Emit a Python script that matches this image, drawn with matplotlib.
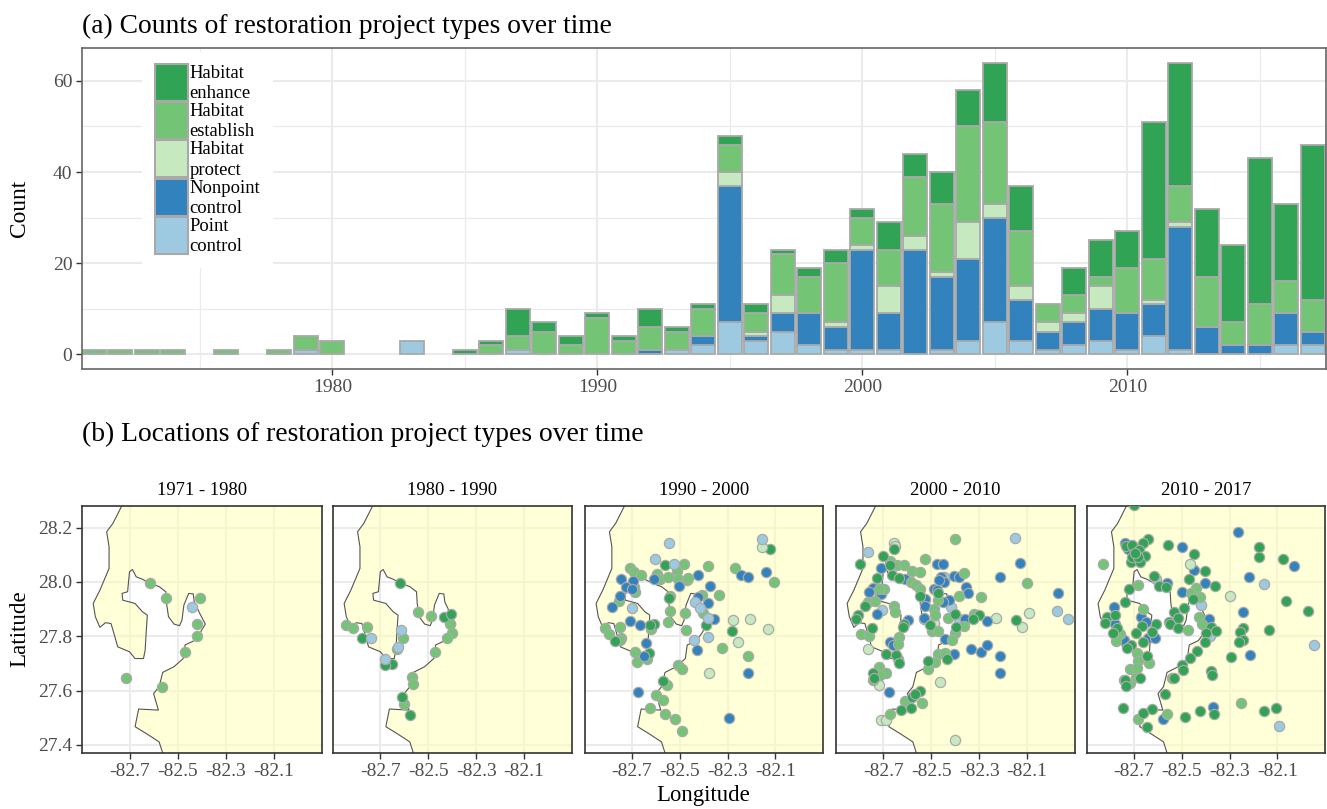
import numpy as np
import matplotlib
matplotlib.use("Agg")
import matplotlib.pyplot as plt
from matplotlib.legend_handler import HandlerPatch
from matplotlib.patches import Patch, Polygon, Rectangle

plt.rcParams['font.family'] = ['Liberation Serif', 'DejaVu Serif']

W, H = 1327, 809

years = list(range(1971, 2018))
point_ct = [0,0,0,0,0,0,0,0,1,0,0,0,3,0,0,0,1,0,0,0,0,0,1,2,7,3,5,2,1,1,1,0,1,3,7,3,1,2,3,1,4,1,0,0,0,2,2]
nonpoint_ct = [0,0,0,0,0,0,0,0,0,0,0,0,0,0,0,0,0,0,0,0,0,1,0,2,30,1,4,7,5,22,8,23,16,18,23,9,4,5,7,8,7,27,6,2,2,7,3]
protect_ct = [0,0,0,0,0,0,0,0,0,0,0,0,0,0,0,0,0,0,0,0,0,0,0,0,3,1,4,0,1,1,6,3,1,8,3,3,2,2,5,0,1,1,0,0,0,0,0]
establish_ct = [1,1,1,1,0,1,0,1,3,3,0,0,0,0,0,2,3,5,2,8,3,5,4,6,6,4,9,8,13,6,8,13,15,21,18,12,4,4,2,10,9,8,11,5,9,7,7]
enhance_ct = [0,0,0,0,0,0,0,0,0,0,0,0,0,0,1,1,6,2,2,1,1,4,1,1,2,2,1,2,3,2,6,5,7,8,13,10,0,6,8,8,30,27,15,17,32,17,34]

type_names = ['Point\ncontrol', 'Nonpoint\ncontrol', 'Habitat\nprotect', 'Habitat\nestablish', 'Habitat\nenhance']
type_cols = ['#9ECAE1', '#3182BD', '#C7E9C0', '#74C476', '#31A354']

# coast outline, lon / lat
coast_lon = [-82.734,-82.769,-82.795,-82.785,-82.785,-82.823,-82.851,-82.842,-82.823,-82.800,-82.777,-82.765,-82.749,-82.700,
             -82.677,-82.642,-82.635,-82.631,-82.626,-82.646,-82.677,-82.728,-82.731,-82.708,-82.700,-82.688,-82.672,-82.646,
             -82.615,-82.577,-82.549,-82.546,-82.538,-82.515,-82.492,-82.482,-82.474,-82.454,-82.435,-82.431,-82.408,-82.385,
             -82.408,-82.431,-82.469,-82.477,-82.515,-82.562,-82.577,-82.600,-82.580,-82.662,-82.677,-82.631,-82.577,-82.562]
coast_lat = [28.277,28.216,28.185,28.130,28.050,27.970,27.921,27.872,27.833,27.850,27.847,27.811,27.761,27.743,
             27.718,27.718,27.749,27.811,27.878,27.890,27.921,27.933,27.958,27.964,28.038,28.046,28.019,28.010,
             27.995,27.983,27.964,27.921,27.872,27.845,27.839,27.860,27.915,27.958,27.956,27.927,27.884,27.845,
             27.811,27.784,27.768,27.718,27.688,27.667,27.614,27.589,27.528,27.532,27.467,27.442,27.411,27.370]

# project locations by decade
p1_establish = [(-82.615,27.995),(-82.548,27.940),(-82.406,27.940),(-82.418,27.844),(-82.418,27.801),(-82.469,27.743),(-82.566,27.614),(-82.714,27.647)]
p1_point = [(-82.440,27.909)]

p2_establish = [(-82.631,27.753),(-82.842,27.840),(-82.812,27.830),(-82.754,27.835),(-82.606,27.792),(-82.542,27.890),(-82.488,27.873),(-82.409,27.847),
                (-82.402,27.813),(-82.420,27.792),(-82.472,27.743),(-82.568,27.651),(-82.565,27.623),(-82.600,27.550)]
p2_enhance = [(-82.617,27.995),(-82.778,27.792),(-82.434,27.871),(-82.403,27.883),(-82.651,27.698),(-82.680,27.696),(-82.609,27.577),(-82.578,27.511)]
p2_point = [(-82.740,27.793),(-82.614,27.823),(-82.625,27.760),(-82.682,27.715)]

p3_point = [(-82.546,28.142),(-82.604,28.085),(-82.525,28.067),(-82.155,28.160),(-82.702,27.906),(-82.436,27.926),(-82.416,27.903),(-82.382,27.866),(-82.383,27.798),(-82.441,27.788)]
p3_protect = [(-82.155,28.128),(-82.279,27.860),(-82.204,27.865),(-82.132,27.825),(-82.257,27.780),(-82.377,27.663)]
p3_enhance = [(-82.564,28.061),(-82.122,28.121),(-82.546,27.941),(-82.607,27.845),(-82.627,27.841),(-82.389,27.840),(-82.283,27.818),(-82.773,27.783),(-82.629,27.737),(-82.572,27.634)]
p3_nonpoint = [(-82.748,28.010),(-82.696,28.002),(-82.725,27.983),(-82.700,27.973),(-82.751,27.948),(-82.786,27.908),(-82.608,28.010),(-82.502,27.986),
               (-82.425,28.027),(-82.372,27.985),(-82.425,27.946),(-82.384,27.922),(-82.357,27.865),(-82.709,27.855),(-82.666,27.841),(-82.641,27.774),
               (-82.650,27.728),(-82.430,27.748),(-82.243,28.027),(-82.214,28.017),(-82.139,28.038),(-82.215,27.663),(-82.675,27.594),(-82.293,27.500)]
p3_establish = [(-82.708,28.053),(-82.693,28.035),(-82.661,28.024),(-82.597,28.029),(-82.582,28.010),(-82.548,28.019),(-82.514,28.042),(-82.483,28.066),
                (-82.509,28.010),(-82.468,28.007),(-82.464,28.016),(-82.383,28.059),(-82.268,28.053),(-82.105,27.999),(-82.693,27.983),(-82.687,27.964),
                (-82.755,27.931),(-82.543,27.949),(-82.540,27.892),(-82.479,27.887),(-82.407,27.951),(-82.334,27.953),(-82.401,27.884),(-82.551,27.852),
                (-82.752,27.835),(-82.812,27.831),(-82.796,27.809),(-82.746,27.795),(-82.751,27.786),(-82.619,27.828),(-82.476,27.823),(-82.323,27.756),
                (-82.216,27.729),(-82.689,27.742),(-82.679,27.706),(-82.636,27.718),(-82.509,27.694),(-82.489,27.680),(-82.554,27.622),(-82.598,27.582),
                (-82.569,27.567),(-82.627,27.534),(-82.562,27.512),(-82.522,27.496),(-82.490,27.452)]

p4_point = [(-82.765,28.109),(-82.150,28.161),(-82.447,28.017),(-81.974,27.893),(-81.931,27.865),(-82.386,27.865),(-82.706,27.895),(-82.418,27.909)]
p4_protect = [(-82.657,28.145),(-82.653,28.133),(-82.765,27.754),(-82.231,27.866),(-82.092,27.887),(-82.121,27.836),(-82.463,27.632),(-82.720,27.620),
              (-82.708,27.491),(-82.688,27.493),(-82.400,27.418),(-82.490,27.850),(-82.532,27.862)]
p4_enhance = [(-82.654,28.120),(-82.702,28.094),(-82.674,28.064),(-82.796,28.066),(-82.663,28.024),(-82.633,28.016),(-82.727,28.013),(-82.546,27.948),
              (-82.472,27.958),(-82.402,27.882),(-82.299,27.879),(-82.327,27.865),(-82.146,27.860),(-82.749,27.830),(-82.804,27.877),(-82.814,27.865),
              (-82.778,27.913),(-82.613,27.847),(-82.618,27.833),(-82.507,27.841),(-82.397,27.833),(-82.690,27.736),(-82.649,27.731),(-82.636,27.702),
              (-82.515,27.709),(-82.433,27.718),(-82.745,27.664),(-82.740,27.647),(-82.549,27.597),(-82.579,27.577),(-82.627,27.529),(-82.583,27.534),(-82.568,27.587)]
p4_nonpoint = [(-82.708,28.050),(-82.475,28.066),(-82.453,28.066),(-82.745,27.978),(-82.758,27.962),(-82.710,27.957),(-82.610,28.010),(-82.458,28.017),
               (-82.447,28.001),(-82.404,28.022),(-82.383,28.017),(-82.467,28.007),(-82.490,27.976),(-82.477,27.970),(-82.353,27.980),(-82.346,27.958),
               (-82.215,28.017),(-82.129,28.071),(-81.971,27.960),(-82.525,27.936),(-82.525,27.913),(-82.424,27.935),(-82.449,27.927),(-82.728,27.881),
               (-82.599,27.860),(-82.531,27.868),(-82.360,27.865),(-82.268,27.855),(-82.443,27.790),(-82.671,27.780),(-82.660,27.767),(-82.336,27.752),
               (-82.292,27.742),(-82.268,27.768),(-82.403,27.734),(-82.215,27.729),(-82.215,27.663),(-82.675,27.595)]
p4_establish = [(-82.399,28.157),(-82.525,28.085),(-82.674,28.077),(-82.642,28.061),(-82.614,28.061),(-82.581,28.040),(-82.549,28.038),(-82.365,28.032),
                (-82.099,27.997),(-82.699,27.976),(-82.717,27.973),(-82.586,28.001),(-82.563,27.989),(-82.549,27.975),(-82.386,27.948),(-82.292,27.944),
                (-82.765,27.927),(-82.733,27.930),(-82.654,27.911),(-82.653,27.888),(-82.489,27.899),(-82.483,27.878),(-82.428,27.867),(-82.322,27.883),
                (-82.365,27.838),(-82.399,27.813),(-82.792,27.809),(-82.761,27.801),(-82.633,27.798),(-82.638,27.771),(-82.497,27.818),(-82.471,27.820),
                (-82.415,27.788),(-82.470,27.736),(-82.443,27.739),(-82.639,27.718),(-82.515,27.679),(-82.486,27.706),(-82.717,27.686),(-82.690,27.664),
                (-82.713,27.657),(-82.742,27.638),(-82.539,27.555),(-82.611,27.563),(-82.672,27.512),(-82.470,27.933)]

p5_enhance = [(-82.700,28.284),(-82.640,28.160),(-82.661,28.142),(-82.736,28.134),(-82.710,28.136),(-82.679,28.118),(-82.654,28.096),(-82.714,28.072),
              (-82.675,28.075),(-82.557,28.136),(-82.450,28.102),(-82.401,28.042),(-82.617,28.022),(-82.469,28.010),(-82.594,27.986),(-82.567,27.980),
              (-82.362,27.985),(-82.176,28.130),(-82.176,28.093),(-82.078,28.085),(-82.065,27.930),(-81.972,27.894),(-82.722,27.973),(-82.740,27.927),
              (-82.453,27.938),(-82.533,27.890),(-82.489,27.904),(-82.814,27.870),(-82.779,27.877),(-82.821,27.850),(-82.772,27.831),(-82.789,27.811),
              (-82.668,27.838),(-82.608,27.847),(-82.692,27.813),(-82.626,27.817),(-82.553,27.852),(-82.515,27.866),(-82.550,27.847),(-82.518,27.831),
              (-82.379,27.835),(-82.358,27.818),(-82.400,27.811),(-82.244,27.829),(-82.258,27.817),(-82.133,27.823),(-82.244,27.786),(-82.261,27.779),
              (-82.404,27.779),(-82.714,27.769),(-82.731,27.756),(-82.661,27.780),(-82.437,27.745),(-82.647,27.727),(-82.464,27.721),(-82.293,27.722),
              (-82.501,27.694),(-82.497,27.677),(-82.376,27.672),(-82.374,27.657),(-82.531,27.645),(-82.675,27.647),(-82.737,27.638),(-82.733,27.616),
              (-82.571,27.588),(-82.746,27.536),(-82.367,27.513),(-82.105,27.534),(-82.157,27.523),(-82.425,27.525),(-82.486,27.501),(-82.626,27.532),
              (-82.664,27.518),(-82.646,27.465),(-82.710,28.093),(-82.682,28.093),(-82.696,28.105)]
p5_nonpoint = [(-82.265,28.185),(-82.501,28.128),(-82.737,28.142),(-82.726,28.120),(-82.447,28.046),(-82.404,27.995),(-82.561,27.995),(-82.217,28.017),
               (-82.032,28.060),(-82.499,27.962),(-82.785,27.908),(-82.672,27.870),(-82.650,27.854),(-82.386,27.862),(-82.242,27.889),(-82.781,27.847),
               (-82.744,27.786),(-82.640,27.792),(-82.612,27.792),(-82.215,27.731),(-82.368,27.541),(-82.578,27.495)]
p5_point = [(-82.608,28.010),(-82.154,27.994),(-82.419,27.914),(-82.381,27.801),(-81.946,27.767),(-82.094,27.468)]
p5_protect = [(-82.464,28.066),(-82.297,27.947)]
p5_establish = [(-82.832,28.065),(-82.685,27.989),(-82.439,27.979),(-82.460,27.960),(-82.425,27.943),(-82.661,27.901),(-82.428,27.870),(-82.415,27.844),
                (-82.758,27.807),(-82.775,27.783),(-82.474,27.822),(-82.686,27.740),(-82.682,27.710),(-82.637,27.702),(-82.717,27.681),(-82.689,27.684),
                (-82.744,27.638),(-82.717,27.629),(-82.543,27.647),(-82.253,27.555),(-82.564,27.514),(-82.682,27.497),(-82.692,27.651)]

panel_titles = ['1971 - 1980', '1980 - 1990', '1990 - 2000', '2000 - 2010', '2010 - 2017']
panel_points = [
    [p1_establish, p1_point],
    [p2_establish, p2_enhance, p2_point],
    [p3_establish, p3_enhance, p3_nonpoint, p3_protect, p3_point],
    [p4_protect, p4_point, p4_nonpoint, p4_establish, p4_enhance],
    [p5_nonpoint, p5_point, p5_protect, p5_establish, p5_enhance],
]
panel_cols = [
    ['#74C476', '#9ECAE1'],
    ['#74C476', '#31A354', '#9ECAE1'],
    ['#74C476', '#31A354', '#3182BD', '#C7E9C0', '#9ECAE1'],
    ['#C7E9C0', '#9ECAE1', '#3182BD', '#74C476', '#31A354'],
    ['#3182BD', '#9ECAE1', '#C7E9C0', '#74C476', '#31A354'],
]
panel_edges = [(82, 322), (333, 572), (585, 823), (836, 1075), (1087, 1325)]
lon_ticks = [-82.7, -82.5, -82.3, -82.1]
lat_ticks = [27.4, 27.6, 27.8, 28.0, 28.2]


def px_axes(fig, x0, x1, y0, y1):
    return fig.add_axes([x0 / W, 1 - y1 / H, (x1 - x0) / W, (y1 - y0) / H])


def tall_key(legend, orig_handle, xdescent, ydescent, width, height, fontsize):
    # legend keys touch each other in the original
    return Rectangle((-xdescent, -ydescent - 2.0), width, height + 6.4)


fig = plt.figure(figsize=(W / 100, H / 100), dpi=100)

# (a) stacked counts
ax = px_axes(fig, 82, 1326, 48, 369)
ax.set_axisbelow(True)
yrs = np.array(years)
bottom = np.zeros(len(yrs))
series = [point_ct, nonpoint_ct, protect_ct, establish_ct, enhance_ct]
for vals, col in zip(series, type_cols):
    vals = np.array(vals)
    keep = vals > 0
    ax.bar(yrs[keep], vals[keep], bottom=bottom[keep], width=0.9, color=col, edgecolor='#A9A9A9', linewidth=1.3)
    bottom += vals
ax.set_xlim(1970.55, 2017.5)
ax.set_ylim(-3.2, 67.2)
ax.set_xticks([1980, 1990, 2000, 2010])
ax.set_xticks([1975, 1985, 1995, 2005, 2015], minor=True)
ax.set_yticks([0, 20, 40, 60])
ax.set_yticks([10, 30, 50], minor=True)
ax.grid(which='major', color='#EBEBEB', linewidth=1.5)
ax.grid(which='minor', color='#EBEBEB', linewidth=0.9)
ax.tick_params(which='minor', length=0)
ax.tick_params(which='major', length=4, width=1, color='#333333', labelsize=14, labelcolor='#4D4D4D', pad=3)
for s in ax.spines.values():
    s.set_color('#666666')
    s.set_linewidth(1.2)

handles = [Patch(facecolor=c, edgecolor='#A9A9A9', linewidth=1.5, label=n) for c, n in zip(type_cols, type_names)]
leg = ax.legend(handles=handles[::-1], loc='upper left', bbox_to_anchor=((142 - 82) / 1244, 1 - (52 - 48) / 321),
                fontsize=13.4, frameon=True, framealpha=1, edgecolor='none', facecolor='white', fancybox=False,
                handlelength=1.77, handleheight=1.95, labelspacing=0.05, handletextpad=0.08, borderpad=0.7, borderaxespad=0,
                handler_map={Patch: HandlerPatch(patch_func=tall_key)})
for t in leg.get_texts():
    t.set_linespacing(1.25)

fig.text(82 / W, 1 - 33 / H, '(a) Counts of restoration project types over time', fontsize=19.85, va='baseline')
fig.text(82 / W, 1 - 441 / H, '(b) Locations of restoration project types over time', fontsize=19.85, va='baseline')
fig.text(20 / W, 1 - 208 / H, 'Count', fontsize=16.8, rotation=90, ha='center', va='center')
fig.text(20 / W, 1 - 629 / H, 'Latitude', fontsize=16.6, rotation=90, ha='center', va='center')
fig.text(703 / W, 1 - 796 / H, 'Longitude', fontsize=16.4, ha='center', va='center')

# (b) maps
for i, (x0, x1) in enumerate(panel_edges):
    m = px_axes(fig, x0, x1, 506, 753)
    m.set_axisbelow(True)
    m.set_xlim(-82.8975, -81.9)
    m.set_ylim(27.37, 28.28)
    m.set_xticks(lon_ticks)
    m.set_xticklabels(['%.1f' % v for v in lon_ticks])
    m.set_yticks(lat_ticks)
    m.grid(color='#EBEBEB', linewidth=1.5, zorder=0)
    outline = list(zip(coast_lon, coast_lat))
    land = Polygon(outline + [(-81.9, 27.37), (-81.9, 28.28), (-82.734, 28.28)], closed=True,
                   facecolor='#FFFFB3', alpha=0.5, edgecolor='none', zorder=1)
    m.add_patch(land)
    m.plot(coast_lon, coast_lat, color='#555555', linewidth=0.8, zorder=2)
    for pts, col in zip(panel_points[i], panel_cols[i]):
        lon = [p[0] for p in pts]
        lat = [p[1] for p in pts]
        m.scatter(lon, lat, s=54, facecolor=col, edgecolor='#A9A9A9', linewidth=0.9, zorder=3)
    m.set_title(panel_titles[i], fontsize=13.4, pad=8)
    m.tick_params(axis='x', length=4, width=1, color='#333333', labelsize=14, labelcolor='#4D4D4D', pad=3)
    if i == 0:
        m.set_yticklabels(['%.1f' % v for v in lat_ticks])
        m.tick_params(axis='y', length=4, width=1, color='#333333', labelsize=14, labelcolor='#4D4D4D', pad=3)
    else:
        m.tick_params(axis='y', length=0, labelleft=False)
    for s in m.spines.values():
        s.set_color('#333333')
        s.set_linewidth(1.2)

fig.savefig('out.png', dpi=100)
